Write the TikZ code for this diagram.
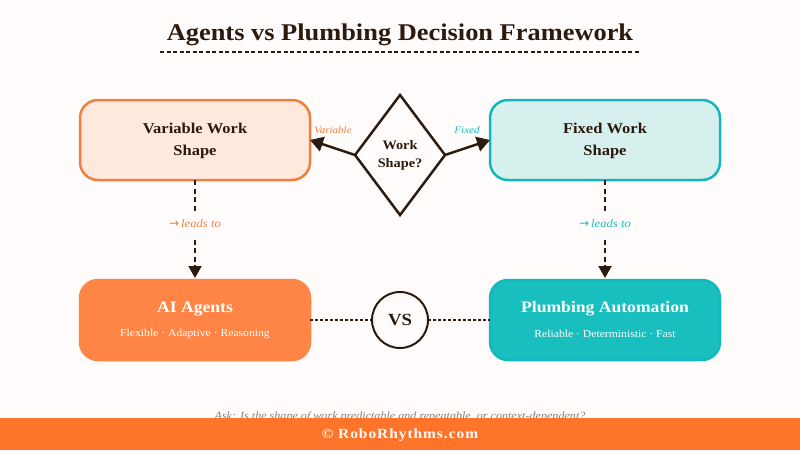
\documentclass[tikz,border=0pt]{standalone}
\usepackage{fontspec}
\setmainfont{Liberation Serif}[FakeStretch=1.1]
\newfontfamily\arrowfont{DejaVu Sans}
\usetikzlibrary{arrows.meta,shapes.geometric}
\definecolor{bgc}{HTML}{FFFCFB}
\definecolor{ink}{HTML}{2C1A0E}
\definecolor{orangeA}{HTML}{FF8547}
\definecolor{orangeB}{HTML}{F08040}
\definecolor{orangeL}{HTML}{FFE8DC}
\definecolor{orangeF}{HTML}{FF742B}
\definecolor{tealA}{HTML}{19BFBF}
\definecolor{tealB}{HTML}{12B8BC}
\definecolor{tealL}{HTML}{D6F0EE}
\definecolor{greyT}{HTML}{8A8078}
\tikzset{
  boxbase/.style={rounded corners=18pt,minimum width=230pt,minimum height=80pt,inner sep=0pt,outer sep=0pt,line width=2.5pt,align=center},
  softbox/.style={boxbase,text=ink},
  softtext/.style={text=ink,font=\fontsize{15}{22}\selectfont\bfseries,inner sep=0pt,align=center},
  solidbox/.style={boxbase,text=white},
  strongarrow/.style={draw=ink,line width=2.5pt,-{Triangle[length=13pt,width=15pt]}},
  dasharrow/.style={draw=ink,line width=2pt,dash pattern=on 5pt off 3.5pt,-{Triangle[length=12pt,width=13pt]},shorten >=2pt},
  dotline/.style={draw=ink,line width=2pt,dash pattern=on 3pt off 2pt},
  edgelabel/.style={font=\fontsize{10}{12}\selectfont\itshape,inner sep=0pt},
  leadlabel/.style={font=\fontsize{11.5}{13}\selectfont\itshape,fill=bgc,inner xsep=2pt,inner ysep=0pt,minimum height=27pt},
}
\begin{document}
\begin{tikzpicture}[x=1pt,y=-1pt]
\useasboundingbox (0,0) rectangle (800,450);
\fill[bgc] (0,0) rectangle (800,450);
\node[font=\fontsize{24}{28}\selectfont\bfseries,text=ink,inner sep=0pt] (title) at (400,34.5) {Agents vs Plumbing Decision Framework};
\coordinate (ruleL) at (160,52);
\coordinate (ruleR) at (640,52);
\draw[draw=ink,line width=1.5pt,dash pattern=on 4pt off 2.5pt] (ruleL) -- (ruleR);

\node[softbox,draw=orangeB,fill=orangeL] (varbox) at (195,140) {};
\node[softbox,draw=tealB,fill=tealL] (fixbox) at (605,140) {};
\node[softtext] (varT) at (195,141) {Variable Work\\Shape};
\node[softtext] (fixT) at (605,141) {Fixed Work\\Shape};
\node[solidbox,draw=orangeA,fill=orangeA] (aibox) at (195,320) {};
\node[solidbox,draw=tealB,fill=tealA] (plbox) at (605,320) {};
\node[text=white,font=\fontsize{16}{18}\selectfont\bfseries,inner sep=0pt] (aiT) at (195,309) {AI Agents};
\node[text=white,font=\fontsize{10.6}{13}\selectfont,inner sep=0pt] (aiS) at (195,333.5) {Flexible · Adaptive · Reasoning};
\node[text=white,font=\fontsize{16}{18}\selectfont\bfseries,inner sep=0pt] (plT) at (605,309) {Plumbing Automation};
\node[text=white,font=\fontsize{10.6}{13}\selectfont,inner sep=0pt] (plS) at (605,333.5) {Reliable · Deterministic · Fast};

\node[diamond,draw=ink,line width=2.5pt,fill=bgc,minimum width=90pt,minimum height=120pt,inner sep=0pt,outer sep=0pt,aspect=0.75,align=center,text=ink,font=\fontsize{13}{18}\selectfont\bfseries] (ask) at (400,155) {Work\\Shape?};
\node[edgelabel,text=orangeB] (lv) at (333,130) {Variable};
\node[edgelabel,text=tealA] (lf) at (467,130) {Fixed};
\draw[strongarrow] (ask.west) -- (varbox.east);
\draw[strongarrow] (ask.east) -- (fixbox.west);

\draw[dasharrow] (varbox.south) -- (aibox.north);
\draw[dasharrow] (fixbox.south) -- (plbox.north);
\node[leadlabel,text=orangeB] (l1) at (195,224) {{\arrowfont\fontsize{12}{13}\selectfont\upshape →}\hspace{2pt}leads to};
\node[leadlabel,text=tealA] (l2) at (605,224) {{\arrowfont\fontsize{12}{13}\selectfont\upshape →}\hspace{2pt}leads to};

\node[circle,draw=ink,line width=2pt,fill=bgc,minimum size=56pt,inner sep=0pt,outer sep=0pt,text=ink,font=\fontsize{17}{20}\selectfont\bfseries] (vs) at (400,320) {VS};
\draw[dotline] (aibox.east) -- (vs.west);
\draw[dotline] (vs.east) -- (plbox.west);

\node[font=\fontsize{11}{13}\selectfont\itshape,text=greyT,inner sep=0pt] (askline) at (400,417) {Ask: Is the shape of work predictable and repeatable, or context-dependent?};
\fill[orangeF] (0,418) rectangle (800,450);
\node[text=bgc,font=\fontsize{14}{16}\selectfont\bfseries\addfontfeatures{LetterSpace=7},inner sep=0pt] (foot) at (400,435) {© RoboRhythms.com};
\end{tikzpicture}
\end{document}
